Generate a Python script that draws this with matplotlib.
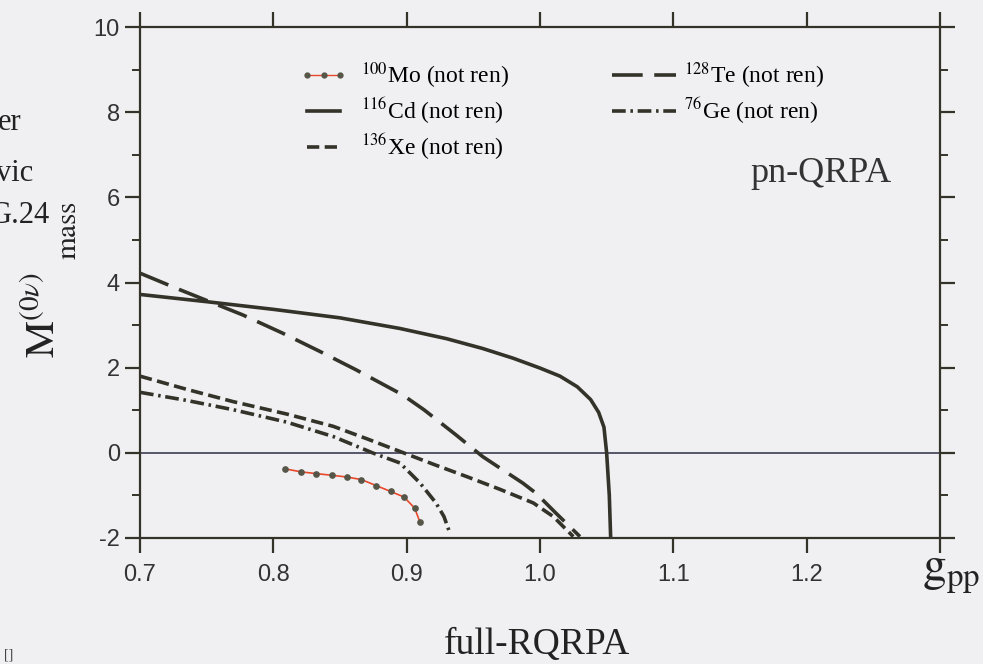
import numpy as np
import matplotlib
matplotlib.use("Agg")
import matplotlib.pyplot as plt
from matplotlib.lines import Line2D

plt.rcParams['mathtext.fontset'] = 'stix'
plt.rcParams['axes.unicode_minus'] = False

# g_pp values and M^(0nu) curves, one list per nucleus
cd_x = [0.700, 0.750, 0.800, 0.850, 0.895, 0.930, 0.957, 0.980, 1.000, 1.015, 1.028, 1.038, 1.044, 1.048, 1.050, 1.052, 1.053]
cd_y = [3.72, 3.55, 3.37, 3.17, 2.92, 2.68, 2.45, 2.22, 1.99, 1.80, 1.55, 1.25, 0.95, 0.60, 0.00, -1.00, -1.97]

te_x = [0.700, 0.730, 0.777, 0.807, 0.835, 0.862, 0.897, 0.913, 0.937, 0.957, 0.970, 0.987, 0.997, 1.012, 1.030]
te_y = [4.22, 3.83, 3.24, 2.81, 2.38, 1.95, 1.36, 1.01, 0.42, -0.09, -0.36, -0.71, -0.95, -1.42, -1.97]

xe_x = [0.700, 0.735, 0.770, 0.810, 0.845, 0.870, 0.895, 0.920, 0.945, 0.970, 0.995, 1.010, 1.025]
xe_y = [1.80, 1.49, 1.20, 0.91, 0.62, 0.33, 0.03, -0.27, -0.56, -0.86, -1.18, -1.50, -1.97]

ge_x = [0.700, 0.735, 0.770, 0.810, 0.845, 0.875, 0.895, 0.910, 0.922, 0.928, 0.932]
ge_y = [1.42, 1.23, 1.01, 0.72, 0.38, -0.01, -0.24, -0.71, -1.18, -1.50, -1.85]

mo_x = [0.809, 0.821, 0.832, 0.844, 0.855, 0.866, 0.877, 0.888, 0.898, 0.906, 0.910]
mo_y = [-0.38, -0.45, -0.49, -0.53, -0.57, -0.63, -0.77, -0.91, -1.04, -1.30, -1.63]

xticks = [0.7, 0.8, 0.9, 1.0, 1.1, 1.2, 1.3]
xtick_labels = ['0.7', '0.8', '0.9', '1.0', '1.1', '1.2', '']
yticks = [-2, 0, 2, 4, 6, 8, 10]

ink = '#33332a'
paper = '#f0f0f2'
serif = 'Liberation Serif'

fig = plt.figure(figsize=(9.83, 6.64), dpi=100, facecolor=paper)
ax = fig.add_axes([0.1424, 0.190, 0.8138, 0.769])
ax.set_facecolor(paper)

ax.axhline(0, color='#3c3c55', lw=1.2, zorder=1)

lw = 2.6
te_dash = (8.5, 3.2)
xe_dash = (3.4, 1.5)
ge_dash = (3.8, 1.3, 0.7, 1.3)

ax.plot(cd_x, cd_y, color=ink, lw=lw)
ax.plot(te_x, te_y, color=ink, lw=lw, dashes=te_dash)
ax.plot(xe_x, xe_y, color=ink, lw=lw, dashes=xe_dash)
ax.plot(ge_x, ge_y, color=ink, lw=lw, dashes=ge_dash)
ax.plot(mo_x, mo_y, color='#e8482a', lw=1.2, marker='o', ms=3.8,
        mfc='#555548', mec='#555548', zorder=3)

ax.set_xlim(0.7, 1.3)
ax.set_ylim(-2, 10)
ax.set_xticks(xticks)
ax.set_xticklabels(xtick_labels)
ax.set_yticks(yticks)
ax.set_yticks(np.arange(-1, 10, 2), minor=True)

for s in ax.spines.values():
    s.set_linewidth(1.6)
    s.set_color(ink)

ax.tick_params(which='major', direction='out', length=10.5, width=1.6, color=ink,
               top=True, right=True, labelsize=17, labelcolor='#333333', pad=4)
ax.tick_params(which='minor', direction='out', length=6, width=1.4, color=ink,
               left=True, right=True)
ax.tick_params(axis='x', which='major', top=True, labeltop=False, pad=8)
for lab in ax.get_xticklabels() + ax.get_yticklabels():
    lab.set_family('Liberation Sans')

# legend, two columns
h_mo = Line2D([], [], color='#e8482a', lw=1.0, marker='o', ms=3.5,
              mfc='#555548', mec='#555548')
h_cd = Line2D([], [], color=ink, lw=lw)
h_xe = Line2D([], [], color=ink, lw=lw, dashes=xe_dash)
h_te = Line2D([], [], color=ink, lw=lw, dashes=te_dash)
h_ge = Line2D([], [], color=ink, lw=lw, dashes=ge_dash)

leg1 = ax.legend([h_mo, h_cd, h_xe],
                 [r'$^{100}$Mo (not ren)', r'$^{116}$Cd (not ren)', r'$^{136}$Xe (not ren)'],
                 loc='upper left', bbox_to_anchor=(0.2, 0.935), frameon=False,
                 prop={'family': serif, 'size': 17}, borderpad=0, borderaxespad=0,
                 handletextpad=0.6, labelspacing=0.22, numpoints=3, handlelength=2.0)
ax.add_artist(leg1)
ax.legend([h_te, h_ge], [r'$^{128}$Te (not ren)', r'$^{76}$Ge (not ren)'],
          loc='upper left', bbox_to_anchor=(0.59, 0.935), frameon=False,
          prop={'family': serif, 'size': 17}, borderpad=0, borderaxespad=0,
          handletextpad=0.35, labelspacing=0.22, handlelength=2.7)

ax.text(0.7625, 0.714, 'pn-QRPA', transform=ax.transAxes, family=serif,
        fontsize=26, color='#333333', va='center', ha='left')

# y label: M^(0nu) with the "mass" subscript set further along
fig.text(0.044, 0.525, r'$\mathrm{M}^{(0\nu)}$', fontsize=30,
         color='#222222', rotation=90, ha='center', va='center')
fig.text(0.069, 0.653, r'$\mathrm{mass}$', fontsize=21,
         color='#222222', rotation=90, ha='center', va='center')

fig.text(0.938, 0.125, r'$\mathrm{g}_{\mathrm{pp}}$', fontsize=34,
         color='#222222', ha='left', va='baseline')
fig.text(0.546, 0.029, 'full-RQRPA', family=serif, fontsize=27,
         color='#222222', ha='center', va='center')

# clipped words from the surrounding page text
for txt, xx, yy in [('er', 0.022, 0.815), ('vic', 0.034, 0.738), ('G.24', 0.051, 0.676)]:
    fig.text(xx, yy, txt, family=serif, fontsize=22, color='#222222',
             ha='right', va='center')
fig.text(0.004, 0.014, '[]', family=serif, fontsize=10, color='#444444',
         ha='left', va='center')

fig.savefig('out.png', dpi=100, facecolor=paper)
